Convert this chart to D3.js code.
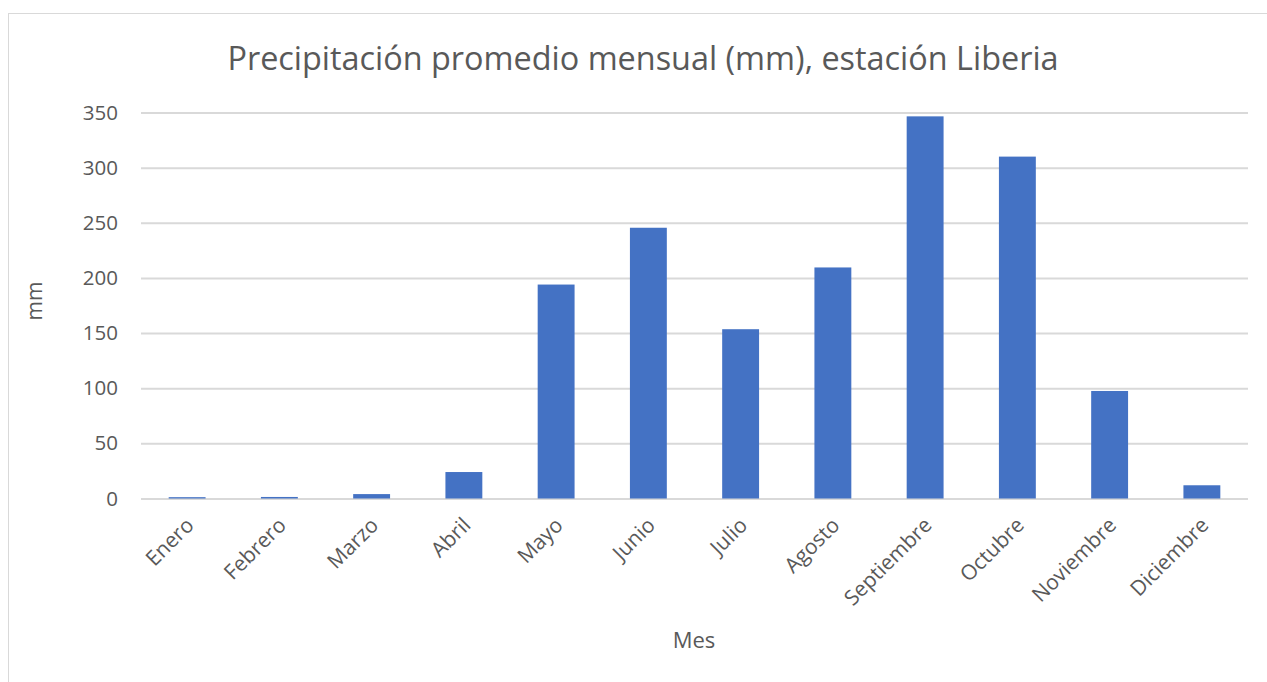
<!DOCTYPE html>
<html><head><meta charset="utf-8">
<script src="https://cdn.jsdelivr.net/npm/d3@7"></script>
<style>body{margin:0;background:#fff}svg{display:block}text{font-family:"Open Sans",sans-serif;fill:#595959}</style>
</head><body><svg id="c" width="1267" height="682"></svg>
<script>
const months = ["Enero","Febrero","Marzo","Abril","Mayo","Junio","Julio","Agosto","Septiembre","Octubre","Noviembre","Diciembre"];
const precip = [1.2, 1.4, 4, 24, 194, 245.5, 153.5, 209.5, 346.5, 310, 97.5, 12];
const yTicks = [0,50,100,150,200,250,300,350];
const title = "Precipitación promedio mensual (mm), estación Liberia";
const xTitle = "Mes", yTitle = "mm";

const svg = d3.select("#c");
svg.append("rect").attr("x",8.5).attr("y",13.5).attr("width",1300).attr("height",700)
  .attr("fill","#fff").attr("stroke","#d9d9d9").attr("stroke-width",1);

const L=141, R=1248, T=112.5, B=498.5;
const x = d3.scaleBand().domain(months).range([L,R]).paddingInner(0.6).paddingOuter(0.3);
const y = d3.scaleLinear().domain([0,350]).range([B,T]);

const gy = svg.append("g").attr("transform",`translate(${L},0)`)
  .call(d3.axisLeft(y).tickValues(yTicks).tickSize(-(R-L)).tickPadding(23));
gy.select(".domain").remove();
gy.selectAll("line").attr("stroke","#d9d9d9").attr("stroke-width",2);
gy.selectAll("text").attr("font-size",20.5).style("fill","#595959").attr("font-family","Open Sans");

svg.append("g").selectAll("rect").data(months).join("rect")
  .attr("x",d=>x(d)).attr("width",x.bandwidth())
  .attr("y",(d,i)=>y(precip[i])).attr("height",(d,i)=>B-y(precip[i]))
  .attr("fill","#4472c4");

const gx = svg.append("g").attr("transform",`translate(0,${B})`)
  .call(d3.axisBottom(x).tickSize(0).tickPadding(0));
gx.select(".domain").remove();
gx.selectAll("text").attr("font-size",21).style("fill","#595959").attr("font-family","Open Sans")
  .attr("text-anchor","end").attr("dy",null).attr("y",null)
  .attr("transform","translate(8,28) rotate(-45)");

svg.append("text").attr("x",643).attr("y",70).attr("text-anchor","middle")
  .attr("font-size",32.4).text(title);
svg.append("text").attr("x",694).attr("y",648).attr("text-anchor","middle")
  .attr("font-size",22).text(xTitle);
svg.append("text").attr("transform","translate(42,301) rotate(-90)").attr("text-anchor","middle")
  .attr("font-size",21).text(yTitle);
</script></body></html>
